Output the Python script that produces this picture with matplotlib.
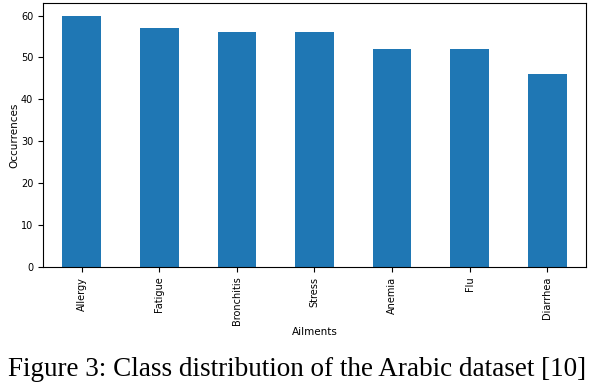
import matplotlib.pyplot as plt

ailments = ["Allergy", "Fatigue", "Bronchitis", "Stress", "Anemia", "Flu", "Diarrhea"]
occurrences = [60, 57, 56, 56, 52, 52, 46]

fig = plt.figure(figsize=(5.94, 3.9), dpi=100)
ax = fig.add_axes([0.0724, 0.3154, 0.9141, 0.6769])

x = range(len(ailments))
ax.bar(x, occurrences, width=0.5, color="#1f77b4")
ax.set_xlim(-0.5, len(ailments) - 0.5)
ax.set_ylim(0, 63)
ax.set_xticks(list(x))
ax.set_xticklabels(ailments, rotation=90, fontsize=7)
ax.tick_params(axis="y", labelsize=7)
ax.set_xlabel("Ailments", fontsize=7.5, labelpad=1)
ax.set_ylabel("Occurrences", fontsize=7.5, labelpad=1)

fig.text(0.5, 0.052, "Figure 3: Class distribution of the Arabic dataset [10]",
         ha="center", va="center", family="Liberation Serif", fontsize=19.5)

fig.savefig("out.png", dpi=100)
